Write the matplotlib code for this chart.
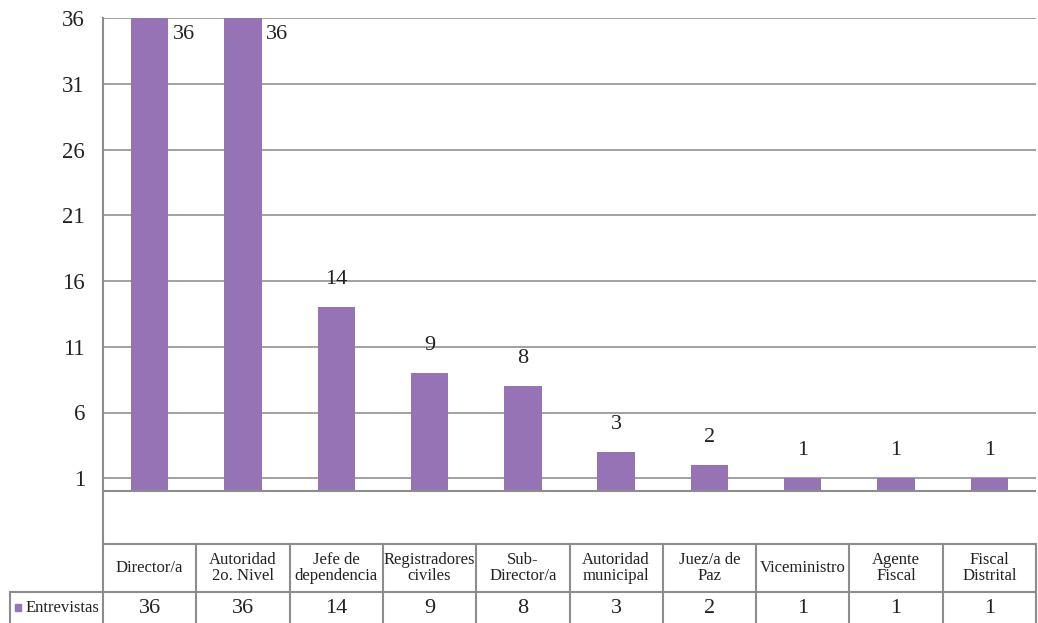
import matplotlib
matplotlib.use("Agg")
import matplotlib.pyplot as plt
from matplotlib.transforms import blended_transform_factory
from matplotlib.lines import Line2D
from matplotlib.patches import Rectangle

categories = ["Director/a", "Autoridad\n2o. Nivel", "Jefe de\ndependencia",
              "Registradores\nciviles", "Sub-\nDirector/a", "Autoridad\nmunicipal",
              "Juez/a de\nPaz", "Viceministro", "Agente\nFiscal", "Fiscal\nDistrital"]
values = [36, 36, 14, 9, 8, 3, 2, 1, 1, 1]
series_name = "Entrevistas"
yticks = [1, 6, 11, 16, 21, 26, 31, 36]

W, H = 1038, 623
fig = plt.figure(figsize=(W / 100, H / 100), dpi=100)
fig.patch.set_facecolor("white")

L, R, T, B = 103, 1036, 18, 544
ax = fig.add_axes([L / W, 1 - B / H, (R - L) / W, (B - T) / H])

FONT = "Liberation Serif"
BAR = "#9673B5"
GRID = "#9a9a9a"
LINE = "#8c8c8c"
TXT = "#222222"

n = len(categories)
x = list(range(n))
ax.bar(x, values, width=0.4, color=BAR, zorder=3)
ax.set_xlim(-0.5, n - 0.5)
ax.set_ylim(-4, 36)
ax.set_yticks(yticks)
ax.set_yticklabels([str(v) for v in yticks], fontfamily=FONT, fontsize=16.5, color=TXT)
ax.tick_params(axis="y", length=0, pad=13)
ax.set_xticks([])
for y in yticks:
    ax.axhline(y, color=GRID, lw=1.3, zorder=1)
ax.axhline(0, color=LINE, lw=1.5, zorder=4)
for s in ["top", "right", "bottom"]:
    ax.spines[s].set_visible(False)
ax.spines["left"].set_color(LINE)
ax.spines["left"].set_linewidth(1.5)

# data labels
for xi, v in zip(x, values):
    if v >= 36:
        ax.annotate(str(v), (xi + 0.2, v), xytext=(3, -12), textcoords="offset points",
                    ha="left", va="center", fontfamily=FONT, fontsize=16, color=TXT)
    else:
        ax.annotate(str(v), (xi, v), xytext=(0, 20), textcoords="offset points",
                    ha="center", va="center", fontfamily=FONT, fontsize=16, color=TXT)

# data table
tr = blended_transform_factory(ax.transData, ax.transAxes)
ah = B - T
y_top = 0.0
y_mid = -(592 - B) / ah
y_bot = -(623 - B) / ah - 0.01
lw = 1.5
ax.add_line(Line2D([-0.5, n - 0.5], [y_top, y_top], transform=tr, color=LINE, lw=lw, clip_on=False))
ax.add_line(Line2D([-0.5, n - 0.5], [y_mid, y_mid], transform=tr, color=LINE, lw=lw, clip_on=False))
for i in range(n + 1):
    ax.add_line(Line2D([i - 0.5, i - 0.5], [y_top, y_bot], transform=tr, color=LINE, lw=lw, clip_on=False))

for xi, c, v in zip(x, categories, values):
    ax.text(xi, (y_top + y_mid) / 2, c, transform=tr, ha="center", va="center",
            fontfamily=FONT, fontsize=12, color=TXT, linespacing=0.95, clip_on=False)
    ax.text(xi, (y_mid + y_bot) / 2 + 0.004, str(v), transform=tr, ha="center", va="center",
            fontfamily=FONT, fontsize=16, color=TXT, clip_on=False)

# legend cell in figure pixel coords
fx = lambda px: px / W
fy = lambda py: 1 - py / H
fig.add_artist(Line2D([fx(10), fx(L)], [fy(592), fy(592)], color=LINE, lw=lw))
fig.add_artist(Line2D([fx(10), fx(10)], [fy(592), fy(630)], color=LINE, lw=lw))
fig.add_artist(Rectangle((fx(15), fy(611)), 6 / W, 7 / H, color=BAR))
fig.text(fx(26), fy(607.5), series_name, ha="left", va="center", fontfamily=FONT,
         fontsize=12, color=TXT)

fig.savefig("out.png", dpi=100, facecolor="white")
